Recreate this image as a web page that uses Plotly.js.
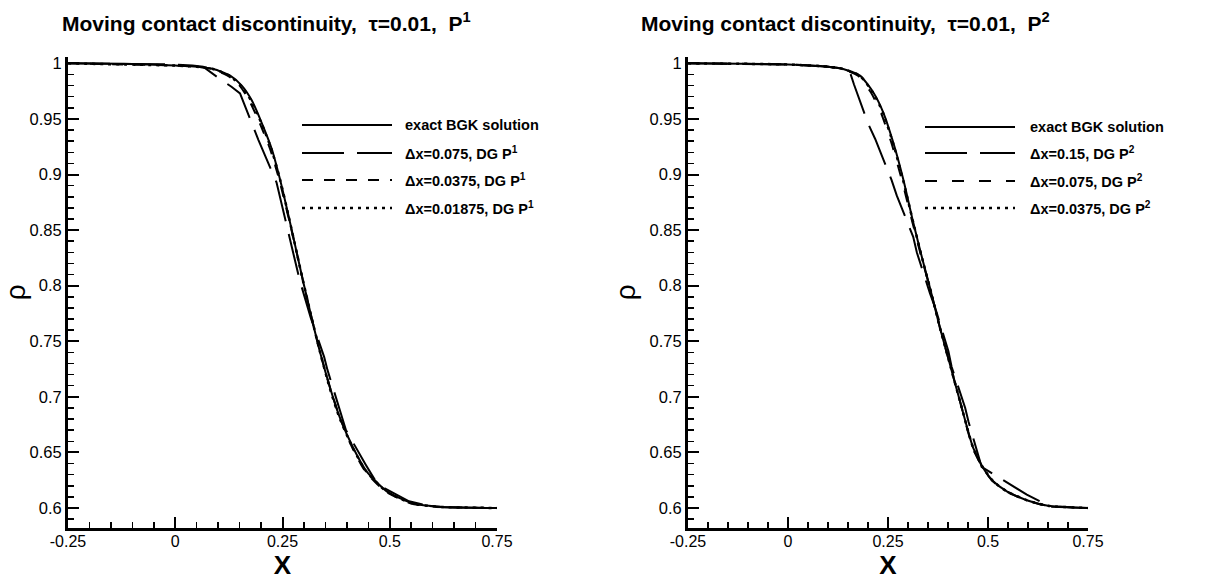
<!DOCTYPE html>
<html>
<head>
<meta charset="utf-8">
<script src="https://cdn.plot.ly/plotly-3.0.1.min.js"></script>
<style>html,body{margin:0;padding:0;background:#fff;}#chart{width:1225px;height:583px;}</style>
</head>
<body>
<div id="chart"></div>
<script>
// ---------- data ----------
// Left panel: DG P1
const leftExactX = [-0.25, -0.1, 0.0, 0.05, 0.089, 0.128, 0.155, 0.178, 0.201, 0.225, 0.244, 0.264, 0.283, 0.298, 0.318, 0.337, 0.361, 0.384, 0.415, 0.446, 0.493, 0.555, 0.62, 0.75];
const leftExactY = [1.0, 0.9995, 0.998, 0.997, 0.995, 0.989, 0.980, 0.967, 0.947, 0.923, 0.896, 0.863, 0.830, 0.804, 0.771, 0.741, 0.708, 0.681, 0.654, 0.633, 0.615, 0.604, 0.601, 0.6];

const leftCoarseX = [-0.25, 0.0, 0.04, 0.065, 0.104, 0.131, 0.151, 0.178, 0.194, 0.236, 0.267, 0.29, 0.316, 0.347, 0.355, 0.386, 0.398, 0.444, 0.472, 0.545, 0.6, 0.75];
const leftCoarseY = [1.0, 0.999, 0.998, 0.997, 0.986, 0.979, 0.973, 0.946, 0.931, 0.893, 0.843, 0.805, 0.771, 0.736, 0.724, 0.684, 0.670, 0.639, 0.621, 0.606, 0.601, 0.6];

const leftMediumX = [-0.25, 0.0, 0.05, 0.085, 0.122, 0.15, 0.172, 0.196, 0.221, 0.242, 0.263, 0.283, 0.298, 0.318, 0.337, 0.361, 0.384, 0.413, 0.443, 0.49, 0.55, 0.62, 0.75];
const leftMediumY = [1.0, 0.998, 0.997, 0.995, 0.989, 0.980, 0.967, 0.947, 0.923, 0.896, 0.863, 0.830, 0.804, 0.771, 0.741, 0.708, 0.681, 0.654, 0.633, 0.615, 0.604, 0.601, 0.6];

const leftFineX = [-0.25, 0.0, 0.05, 0.088, 0.126, 0.153, 0.176, 0.2, 0.224, 0.244, 0.264, 0.283, 0.298, 0.318, 0.337, 0.36, 0.383, 0.414, 0.445, 0.492, 0.553, 0.62, 0.75];
const leftFineY = [1.0, 0.998, 0.997, 0.995, 0.989, 0.980, 0.967, 0.947, 0.923, 0.896, 0.863, 0.830, 0.804, 0.771, 0.741, 0.708, 0.681, 0.654, 0.633, 0.615, 0.604, 0.601, 0.6];

// Right panel: DG P2
const rightExactX = [-0.25, 0.0, 0.1, 0.138, 0.18, 0.213, 0.238, 0.263, 0.288, 0.313, 0.338, 0.355, 0.38, 0.405, 0.43, 0.463, 0.488, 0.513, 0.547, 0.597, 0.65, 0.75];
const rightExactY = [1.0, 0.999, 0.997, 0.995, 0.989, 0.974, 0.956, 0.929, 0.896, 0.857, 0.821, 0.798, 0.762, 0.729, 0.696, 0.654, 0.636, 0.624, 0.615, 0.607, 0.602, 0.6];

const rightCoarseX = [-0.25, 0.0, 0.1, 0.14, 0.155, 0.165, 0.2, 0.218, 0.259, 0.272, 0.313, 0.322, 0.355, 0.368, 0.401, 0.409, 0.443, 0.451, 0.484, 0.597, 0.63, 0.66, 0.75];
const rightCoarseY = [1.0, 0.999, 0.997, 0.995, 0.992, 0.981, 0.946, 0.932, 0.895, 0.881, 0.844, 0.830, 0.793, 0.780, 0.741, 0.727, 0.690, 0.678, 0.637, 0.612, 0.606, 0.601, 0.6];

const rightMediumX = [-0.25, 0.0, 0.1, 0.135, 0.175, 0.207, 0.232, 0.258, 0.284, 0.311, 0.337, 0.355, 0.38, 0.405, 0.43, 0.462, 0.487, 0.512, 0.546, 0.596, 0.65, 0.75];
const rightMediumY = [1.0, 0.999, 0.997, 0.995, 0.989, 0.974, 0.956, 0.929, 0.896, 0.857, 0.821, 0.798, 0.762, 0.729, 0.696, 0.654, 0.636, 0.624, 0.615, 0.607, 0.602, 0.6];

const rightFineX = [-0.25, 0.0, 0.1, 0.137, 0.179, 0.212, 0.237, 0.262, 0.287, 0.313, 0.338, 0.355, 0.38, 0.405, 0.43, 0.463, 0.488, 0.513, 0.547, 0.597, 0.65, 0.75];
const rightFineY = [1.0, 0.999, 0.997, 0.995, 0.989, 0.974, 0.956, 0.929, 0.896, 0.857, 0.821, 0.798, 0.762, 0.729, 0.696, 0.654, 0.636, 0.624, 0.615, 0.607, 0.602, 0.6];

// tick labels
const xTickVals = [-0.25, 0, 0.25, 0.5, 0.75];
const xTickText = ["-0.25", "0", "0.25", "0.5", "0.75"];
const yTickVals = [0.6, 0.65, 0.7, 0.75, 0.8, 0.85, 0.9, 0.95, 1.0];
const yTickText = ["0.6", "0.65", "0.7", "0.75", "0.8", "0.85", "0.9", "0.95", "1"];

// titles & legend labels
const leftTitle = "Moving contact discontinuity,  τ=0.01,  P<sup>1</sup>";
const rightTitle = "Moving contact discontinuity,  τ=0.01,  P<sup>2</sup>";
const leftNames = ["exact BGK solution", "Δx=0.075, DG P<sup>1</sup>", "Δx=0.0375, DG P<sup>1</sup>", "Δx=0.01875, DG P<sup>1</sup>"];
const rightNames = ["exact BGK solution", "Δx=0.15, DG P<sup>2</sup>", "Δx=0.075, DG P<sup>2</sup>", "Δx=0.0375, DG P<sup>2</sup>"];

// ---------- styles ----------
const W = 1225, H = 583;
const FONT = "Liberation Sans, Arial, sans-serif";
const leftStyles = [
  {dash: "solid", width: 2},
  {dash: "42px,13px", width: 2},
  {dash: "11px,11px", width: 2},
  {dash: "3px,5px", width: 2.5}
];
const rightStyles = [
  {dash: "solid", width: 2},
  {dash: "42px,13px", width: 2},
  {dash: "12px,15px", width: 2},
  {dash: "3px,5px", width: 2.5}
];

function px(x) { return x / W; }
function py(y) { return 1 - y / H; }

const traces = [];
function addSeries(xs, ys, style, xa, ya, smooth) {
  traces.push({
    x: xs, y: ys, type: "scatter", mode: "lines",
    xaxis: xa, yaxis: ya, showlegend: false, hoverinfo: "skip",
    line: {color: "#000", width: style.width, dash: style.dash, shape: smooth ? "spline" : "linear", smoothing: 0.6}
  });
}
addSeries(leftCoarseX, leftCoarseY, leftStyles[1], "x", "y", false);
addSeries(leftMediumX, leftMediumY, leftStyles[2], "x", "y", true);
addSeries(leftFineX, leftFineY, leftStyles[3], "x", "y", true);
addSeries(leftExactX, leftExactY, leftStyles[0], "x", "y", true);
addSeries(rightCoarseX, rightCoarseY, rightStyles[1], "x2", "y2", false);
addSeries(rightMediumX, rightMediumY, rightStyles[2], "x2", "y2", true);
addSeries(rightFineX, rightFineY, rightStyles[3], "x2", "y2", true);
addSeries(rightExactX, rightExactY, rightStyles[0], "x2", "y2", true);

function xAxis(domain, anchor) {
  return {
    domain: domain, anchor: anchor, range: [-0.25, 0.75],
    showline: true, linewidth: 3, linecolor: "#000", mirror: false,
    showgrid: false, zeroline: false,
    ticks: "inside", ticklen: 11, tickwidth: 2, tickcolor: "#000",
    tickvals: xTickVals, ticktext: xTickText,
    tickfont: {family: FONT, size: 16, color: "#000"},
    ticklabelstandoff: -3,
    minor: {ticks: "inside", ticklen: 6, tickwidth: 1.5, tickcolor: "#000", dtick: 0.05, tick0: -0.25, showgrid: false},
    title: {text: "<b>X</b>", font: {family: FONT, size: 26, color: "#000"}, standoff: 6}
  };
}
function yAxis(domain, anchor) {
  return {
    domain: domain, anchor: anchor, range: [0.582, 1.006],
    showline: true, linewidth: 3, linecolor: "#000", mirror: false,
    showgrid: false, zeroline: false,
    ticks: "inside", ticklen: 11, tickwidth: 2, tickcolor: "#000",
    tickvals: yTickVals, ticktext: yTickText,
    tickfont: {family: FONT, size: 16.5, color: "#000"},
    minor: {ticks: "inside", ticklen: 6, tickwidth: 1.5, tickcolor: "#000", dtick: 0.01, tick0: 0.6, showgrid: false},
    title: {text: "ρ", font: {family: FONT, size: 28, color: "#000"}, standoff: 6}
  };
}

const yDom = [1 - 528 / H, 1 - 56.7 / H];
const layout = {
  width: W, height: H,
  margin: {l: 0, r: 0, t: 0, b: 0},
  paper_bgcolor: "#fff", plot_bgcolor: "#fff",
  showlegend: false,
  xaxis: xAxis([px(68), px(497)], "y"),
  yaxis: yAxis(yDom, "x"),
  xaxis2: xAxis([px(688), px(1088)], "y2"),
  yaxis2: yAxis(yDom, "x2"),
  shapes: [],
  annotations: []
};

// titles
layout.annotations.push({text: "<b>" + leftTitle + "</b>", x: px(266), y: py(22), xref: "paper", yref: "paper", xanchor: "center", yanchor: "middle", showarrow: false, font: {family: FONT, size: 21, color: "#000"}});
layout.annotations.push({text: "<b>" + rightTitle + "</b>", x: px(845), y: py(22), xref: "paper", yref: "paper", xanchor: "center", yanchor: "middle", showarrow: false, font: {family: FONT, size: 21, color: "#000"}});

// legends (drawn as paper-positioned samples)
function legend(names, styles, x0, x1, xt, rows) {
  for (let i = 0; i < names.length; i++) {
    layout.shapes.push({type: "line", xref: "paper", yref: "paper", x0: px(x0), x1: px(x1), y0: py(rows[i]), y1: py(rows[i]),
      line: {color: "#000", width: styles[i].width, dash: styles[i].dash}});
    layout.annotations.push({text: "<b>" + names[i] + "</b>", x: px(xt), y: py(rows[i]), xref: "paper", yref: "paper",
      xanchor: "left", yanchor: "middle", showarrow: false, font: {family: FONT, size: 14.5, color: "#000"}});
  }
}
legend(leftNames, leftStyles, 302, 392, 403, [125, 153, 180, 208]);
legend(rightNames, rightStyles, 925, 1015, 1028, [127, 153, 181, 208]);

Plotly.newPlot("chart", traces, layout, {staticPlot: true, displayModeBar: false});
</script>
</body>
</html>
